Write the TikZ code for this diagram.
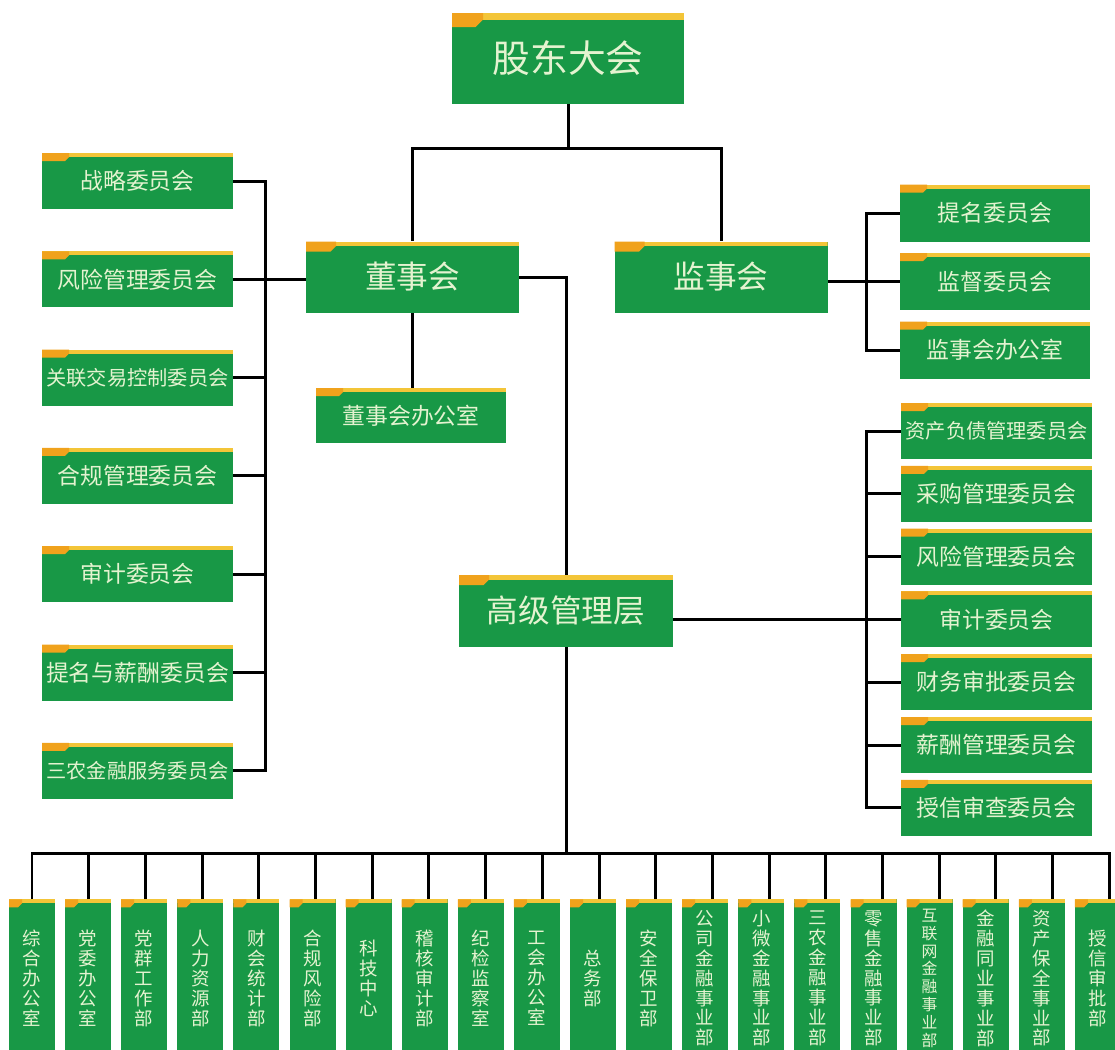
\documentclass[tikz,border=0pt]{standalone}
\usepackage{fontspec}
\setmainfont{Noto Sans CJK SC}
\definecolor{unitgreen}{RGB}{24,152,70}
\definecolor{bandyellow}{RGB}{243,197,56}
\definecolor{taborange}{RGB}{240,162,28}
\definecolor{unittext}{RGB}{228,243,208}
\newlength\px
\setlength\px{0.02cm}
\tikzset{
  strip/.style n args={3}{path picture={
      \fill[bandyellow] (path picture bounding box.north west) rectangle ([yshift=-#1*\px]path picture bounding box.north east);
      \fill[taborange] (path picture bounding box.north west) -- ++(#2,0) -- ++(0,#1) -- ++({#1-#3},{#3-#1}) -- ++({#3-#1-#2},0) -- cycle;
  }},
  unit/.style={fill=unitgreen, text=unittext, inner sep=0pt},
  topunit/.style={unit, minimum width=232*\px, minimum height=91*\px, strip={6.5}{31}{14}, font=\fontsize{21.5}{24}\selectfont},
  midunit/.style={unit, minimum width=213*\px, minimum height=71*\px, strip={4.5}{30}{10}, font=\fontsize{18}{20}\selectfont},
  comunit/.style={unit, minimum width=191*\px, minimum height=56*\px, strip={4}{27}{8}, font=\fontsize{13}{15}\selectfont},
  narrow/.style={font=\fontsize{11.5}{13}\selectfont},
  dept/.style={unit, anchor=north, minimum width=46*\px, minimum height=158*\px, strip={4}{13}{8}, align=center, font=\fontsize{10.5}{11.3}\selectfont},
  deptsmall/.style={font=\fontsize{9}{10.2}\selectfont},
  link/.style={line width=1.7pt},
  bus/.style={line width=1.7pt, line cap=rect},
}
\begin{document}
\begin{tikzpicture}[x=0.02cm, y=-0.02cm]
  \useasboundingbox (0,0) rectangle (1115,1049);
  \clip (0,0) rectangle (1115,1049);

  \node[topunit] (gd) at (568,58.5) {股东大会};
  \node[midunit] (dsh) at (412.5,277) {董事会};
  \node[midunit] (jsh) at (721,277) {监事会};
  \node[comunit, minimum width=190*\px, minimum height=55*\px] (dbo) at (411,415.5) {董事会办公室};
  \node[midunit, minimum width=214*\px, minimum height=72*\px] (gj) at (566,611) {高级管理层};

  \foreach \txt/\st [count=\i from 0] in {战略委员会/comunit, 风险管理委员会/comunit, 关联交易控制委员会/narrow,
      合规管理委员会/comunit, 审计委员会/comunit, 提名与薪酬委员会/comunit, 三农金融服务委员会/narrow}
    \node[comunit, \st] (lc\i) at (137.5,181+98.3*\i) {\txt};

  \foreach \txt [count=\i from 0] in {提名委员会, 监督委员会, 监事会办公室}
    \node[comunit, minimum width=190*\px, minimum height=57*\px] (jc\i) at (995,213+68.5*\i) {\txt};

  \foreach \txt/\st [count=\i from 0] in {资产负债管理委员会/narrow, 采购管理委员会/comunit, 风险管理委员会/comunit,
      审计委员会/comunit, 财务审批委员会/comunit, 薪酬管理委员会/comunit, 授信审查委员会/comunit}
    \node[comunit, \st] (sc\i) at (996.5,431+62.8*\i) {\txt};

  \foreach \txt/\st [count=\i from 0] in {
      {综\\合\\办\\公\\室}/dept, {党\\委\\办\\公\\室}/dept, {党\\群\\工\\作\\部}/dept, {人\\力\\资\\源\\部}/dept,
      {财\\会\\统\\计\\部}/dept, {合\\规\\风\\险\\部}/dept, {科\\技\\中\\心}/dept, {稽\\核\\审\\计\\部}/dept,
      {纪\\检\\监\\察\\室}/dept, {工\\会\\办\\公\\室}/dept, {总\\务\\部}/dept, {安\\全\\保\\卫\\部}/dept,
      {公\\司\\金\\融\\事\\业\\部}/dept, {小\\微\\金\\融\\事\\业\\部}/dept, {三\\农\\金\\融\\事\\业\\部}/dept,
      {零\\售\\金\\融\\事\\业\\部}/dept, {互\\联\\网\\金\\融\\事\\业\\部}/deptsmall, {金\\融\\同\\业\\事\\业\\部}/dept,
      {资\\产\\保\\全\\事\\业\\部}/dept, {授\\信\\审\\批\\部}/dept}
    \node[dept, \st] (d\i) at (32+56.1*\i,899) {\txt};

  \draw[link] (gd.south) -- ++(0,44) coordinate (split);
  \draw[link] (dsh.north) |- (split) -| (jsh.north);
  \draw[link] (dsh.south) -- (dsh.south |- dbo.north);
  \draw[link] (dsh.east) -| (gj.north);

  \draw[link] (lc0.east) -- ++(32,0) |- (lc6.east);
  \foreach \i in {2,...,5}
    \draw[link] (lc\i.east) -- ++(32,0);
  \draw[link] (lc1.east) -- (lc1.east -| dsh.west);

  \draw[link] (jc0.west) -- ++(-33,0) |- (jc2.west);
  \draw[link] (jc1.west) -- (jc1.west -| jsh.east);

  \draw[link] (sc0.west) -- ++(-34,0) |- (sc6.west);
  \foreach \i in {1,2,4,5}
    \draw[link] (sc\i.west) -- ++(-34,0);
  \draw[link] (sc3.west) -- (sc3.west -| gj.east);

  \foreach \i in {0,...,19}
    \draw[link] ([xshift=0.6*\i*\px]d\i.north) -- ++(0,-46) coordinate (t\i);
  \draw[bus] (t0) -- (t19);
  \draw[link] (gj.south) -- (gj.south |- t0);
\end{tikzpicture}
\end{document}
